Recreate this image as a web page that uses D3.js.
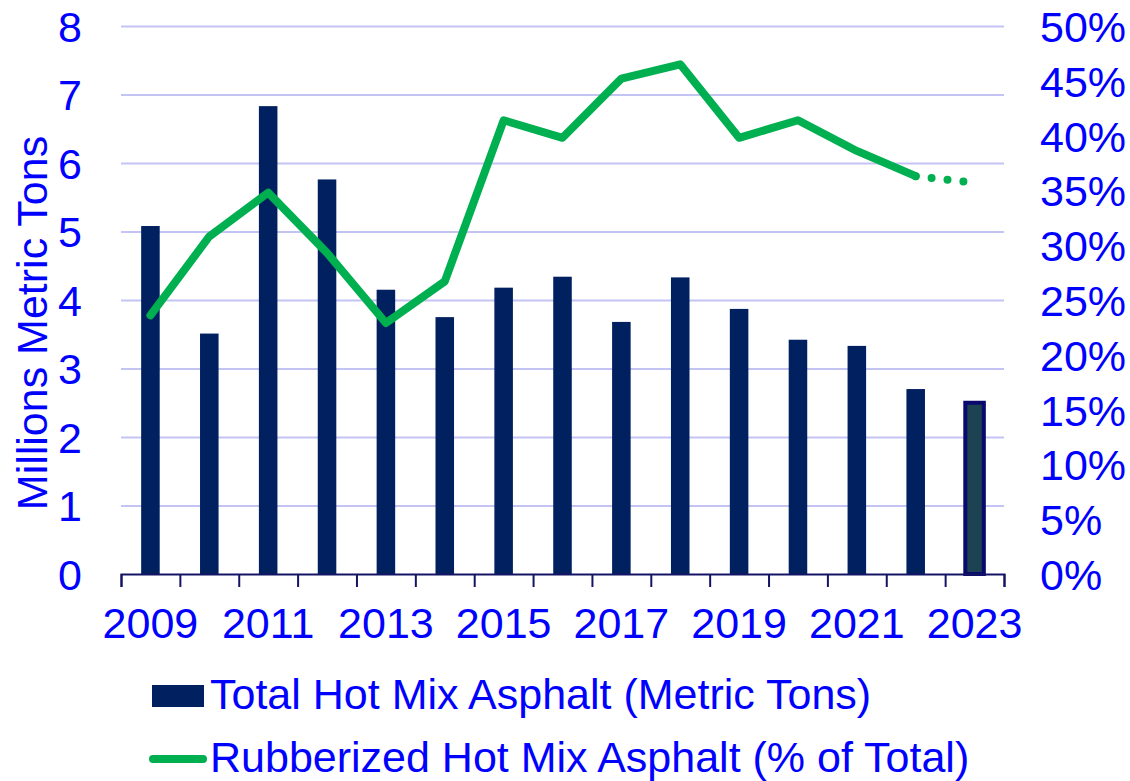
<!DOCTYPE html>
<html>
<head>
<meta charset="utf-8">
<script src="https://cdn.jsdelivr.net/npm/d3@7"></script>
<style>
  body { margin: 0; background: #fff; }
  svg text { font-family: "Liberation Sans", Arial, sans-serif; fill: #0000ff; }
</style>
</head>
<body>
<div id="chart"></div>
<script>
const years = ['2009', '2010', '2011', '2012', '2013', '2014', '2015', '2016',
               '2017', '2018', '2019', '2020', '2021', '2022', '2023']
const totalTons = [5.08, 3.51, 6.83, 5.76, 4.15, 3.75, 4.18, 4.34,
                   3.68, 4.33, 3.87, 3.42, 3.33, 2.70, 2.50]
const rubberPct = [23.6, 30.8, 34.8, 29.3, 22.9, 26.7, 41.4, 39.8,
                   45.2, 46.5, 39.8, 41.4, 38.6, 36.3, 35.7]
const leftTicks = [0, 1, 2, 3, 4, 5, 6, 7, 8]
const rightTicks = [0, 5, 10, 15, 20, 25, 30, 35, 40, 45, 50]
const seriesNames = ['Total Hot Mix Asphalt (Metric Tons)',
                     'Rubberized Hot Mix Asphalt (% of Total)']

const width = 1130,
      height = 781,
      plotLeft = 121,
      plotRight = 1004,
      plotTop = 26,
      plotBottom = 574,
      fontSize = 43

const navy = '#002060',
      green = '#00b050',
      grid = '#c4c4f4',
      axisColor = '#141466'

const svg = d3.select('#chart')
              .append('svg')
              .attr('width', width)
              .attr('height', height)

const xScale = d3.scaleBand()
                 .domain(years)
                 .range([plotLeft, plotRight])
                 .paddingInner(0.685)
                 .paddingOuter(0.3425),
      xEdge = d3.scaleLinear()
                .domain([0, years.length])
                .range([plotLeft, plotRight]),
      yScale = d3.scaleLinear()
                 .domain([0, 8])
                 .range([plotBottom, plotTop]),
      pScale = d3.scaleLinear()
                 .domain([0, 50])
                 .range([plotBottom, plotTop])

const cx = function(d) { return xScale(d) + xScale.bandwidth() / 2 }

// gridlines
svg.append('g')
   .attr('transform', 'translate(' + plotLeft + ', 0)')
   .call(d3.axisLeft(yScale).tickValues(leftTicks.slice(1))
           .tickSize(-(plotRight - plotLeft)).tickFormat(''))
   .call(g => g.select('.domain').remove())
   .call(g => g.selectAll('line').attr('stroke', grid).attr('stroke-width', 2))

// left labels
svg.append('g')
   .attr('transform', 'translate(' + plotLeft + ', 0)')
   .call(d3.axisLeft(yScale).tickValues(leftTicks).tickSize(0).tickPadding(39))
   .call(g => g.select('.domain').remove())
   .call(g => g.selectAll('text').attr('font-size', fontSize).attr('dy', '0.36em'))

// right labels
svg.append('g')
   .attr('transform', 'translate(' + plotRight + ', 0)')
   .call(d3.axisRight(pScale).tickValues(rightTicks).tickSize(0).tickPadding(36)
           .tickFormat(function(d) { return d + '%' }))
   .call(g => g.select('.domain').remove())
   .call(g => g.selectAll('text').attr('font-size', fontSize).attr('dy', '0.36em'))

// bars
svg.selectAll('rect.bar')
   .data(years)
   .enter()
   .append('rect')
   .attr('class', 'bar')
   .attr('x', function(d) { return xScale(d) })
   .attr('width', xScale.bandwidth())
   .attr('y', function(d, i) { return yScale(totalTons[i]) })
   .attr('height', function(d, i) { return plotBottom - yScale(totalTons[i]) })
   .attr('fill', function(d, i) { return i === years.length - 1 ? '#1d4252' : navy })
   .attr('stroke', function(d, i) { return i === years.length - 1 ? '#0a0a6e' : 'none' })
   .attr('stroke-width', 4)

// x axis line + boundary ticks
svg.append('g')
   .attr('transform', 'translate(0, ' + plotBottom + ')')
   .call(d3.axisBottom(xEdge).ticks(years.length).tickSize(13).tickFormat('').tickSizeOuter(13))
   .call(g => g.select('.domain').attr('stroke', axisColor).attr('stroke-width', 2))
   .call(g => g.selectAll('line').attr('stroke', axisColor).attr('stroke-width', 2))

// x labels, odd years only
svg.append('g')
   .attr('transform', 'translate(0, ' + plotBottom + ')')
   .call(d3.axisBottom(xScale).tickSize(0).tickPadding(33)
           .tickFormat(function(d, i) { return i % 2 === 0 ? d : '' }))
   .call(g => g.select('.domain').remove())
   .call(g => g.selectAll('text').attr('font-size', fontSize))

// line
const line = d3.line()
               .x(function(d) { return cx(d) })
               .y(function(d) { return pScale(rubberPct[years.indexOf(d)]) })

const n = years.length
svg.append('path')
   .datum(years.slice(0, n - 1))
   .attr('d', line)
   .attr('fill', 'none')
   .attr('stroke', green)
   .attr('stroke-width', 8)
   .attr('stroke-linejoin', 'round')
   .attr('stroke-linecap', 'round')

svg.append('path')
   .datum(years.slice(n - 2))
   .attr('d', line)
   .attr('fill', 'none')
   .attr('stroke', green)
   .attr('stroke-width', 8)
   .attr('stroke-linecap', 'round')
   .attr('stroke-dasharray', '0 16')

// y title
svg.append('text')
   .attr('transform', 'rotate(-90)')
   .attr('x', -323)
   .attr('y', 47)
   .attr('text-anchor', 'middle')
   .attr('font-size', fontSize)
   .text('Millions Metric Tons')

// legend
const legend = svg.append('g')
legend.append('rect')
      .attr('x', 152).attr('y', 685)
      .attr('width', 52).attr('height', 22)
      .attr('fill', navy)
legend.append('text')
      .attr('x', 210).attr('y', 709)
      .attr('font-size', fontSize)
      .text(seriesNames[0])
legend.append('line')
      .attr('x1', 153).attr('x2', 203)
      .attr('y1', 759).attr('y2', 759)
      .attr('stroke', green)
      .attr('stroke-width', 8)
      .attr('stroke-linecap', 'round')
legend.append('text')
      .attr('x', 210).attr('y', 772)
      .attr('font-size', fontSize)
      .text(seriesNames[1])
</script>
</body>
</html>
